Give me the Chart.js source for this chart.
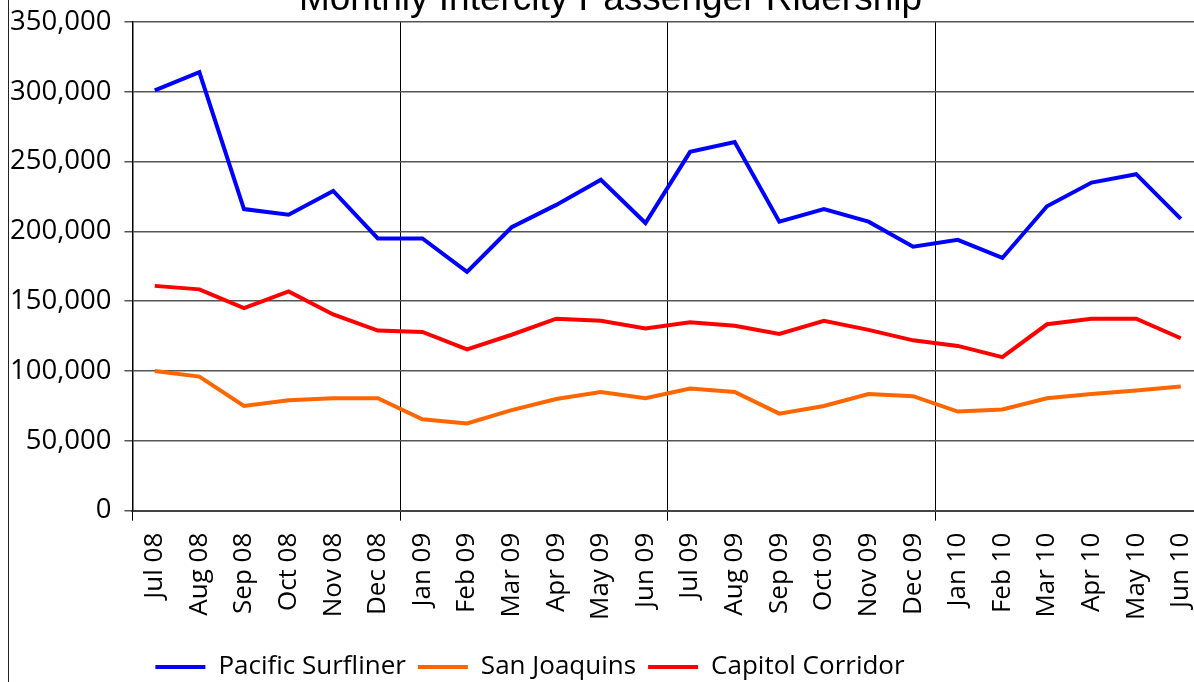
<!DOCTYPE html>
<html>
<head>
<meta charset="utf-8">
<script src="https://cdn.jsdelivr.net/npm/chart.js@4"></script>
<style>
  html, body { margin: 0; padding: 0; background: #fff; overflow: hidden; }
  #page { position: relative; width: 1194px; height: 682px; overflow: hidden; }
  #frame { position: absolute; left: 8px; top: 0; width: 0; height: 682px; border-left: 1.5px solid #222; }
  #wrap { position: absolute; left: 0; top: -20px; width: 1224px; height: 720px; }
</style>
</head>
<body>
<div id="page">
  <div id="wrap"><canvas id="chart" width="1224" height="720"></canvas></div>
  <div id="frame"></div>
</div>
<script>
const months = ['Jul 08', 'Aug 08', 'Sep 08', 'Oct 08', 'Nov 08', 'Dec 08',
  'Jan 09', 'Feb 09', 'Mar 09', 'Apr 09', 'May 09', 'Jun 09',
  'Jul 09', 'Aug 09', 'Sep 09', 'Oct 09', 'Nov 09', 'Dec 09',
  'Jan 10', 'Feb 10', 'Mar 10', 'Apr 10', 'May 10', 'Jun 10'];

const pacificSurfliner = [301000, 314000, 216000, 212000, 229000, 195000,
  195000, 171000, 203000, 219000, 237000, 206000,
  257000, 264000, 207000, 216000, 207000, 189000,
  194000, 181000, 218000, 235000, 241000, 209000];

const sanJoaquins = [100000, 96000, 75000, 79000, 80500, 80500,
  65500, 62500, 72000, 80000, 85000, 80500,
  87500, 85000, 69500, 75000, 83500, 82000,
  71000, 72500, 80500, 83500, 86000, 89000];

const capitolCorridor = [161000, 158500, 145000, 157000, 140500, 129000,
  128000, 115500, 126000, 137500, 136000, 130500,
  135000, 132500, 126500, 136000, 129500, 122000,
  118000, 110000, 133500, 137500, 137500, 123500];

const yTicks = [0, 50000, 100000, 150000, 200000, 250000, 300000, 350000];

const tickFont = { family: 'Open Sans', size: 26 };

// legend in the original sits left of centre, so pull its box in
const legendShift = {
  id: 'legendShift',
  afterLayout(chart) {
    const lg = chart.legend;
    lg.right = 2 * 530 - lg.left;
  }
};

function line(label, data, color) {
  return {
    label: label,
    data: data,
    borderColor: color,
    backgroundColor: color,
    borderWidth: 4,
    pointRadius: 0,
    tension: 0,
    fill: false
  };
}

new Chart(document.getElementById('chart'), {
  type: 'line',
  data: {
    labels: months,
    datasets: [
      line('Pacific Surfliner', pacificSurfliner, '#0000ff'),
      line('San Joaquins', sanJoaquins, '#ff6600'),
      line('Capitol Corridor', capitolCorridor, '#ff0000')
    ]
  },
  plugins: [legendShift],
  options: {
    responsive: false,
    devicePixelRatio: 1,
    animation: false,
    layout: { padding: { top: 4.3, left: -3, right: 0, bottom: 10 } },
    plugins: {
      title: {
        display: true,
        text: 'Monthly Intercity Passenger Ridership',
        color: '#000',
        font: { family: 'Liberation Sans', size: 37, weight: 'normal' },
        padding: { top: -6.7, bottom: 0 }
      },
      legend: {
        position: 'bottom',
        labels: {
          color: '#000',
          font: tickFont,
          usePointStyle: true,
          pointStyle: 'line',
          pointStyleWidth: 50,
          padding: 12
        }
      },
      tooltip: { enabled: false }
    },
    scales: {
      x: {
        offset: true,
        afterFit: (s) => { s.height += 10; },
        grid: {
          offset: true,
          color: (c) => (c.index % 6 === 0 ? '#000' : 'rgba(0,0,0,0)'),
          lineWidth: 1,
          tickLength: 10
        },
        border: { color: '#444', width: 2 },
        ticks: {
          color: '#000',
          font: tickFont,
          maxRotation: 90,
          minRotation: 90,
          autoSkip: false,
          padding: 12
        }
      },
      y: {
        min: 0,
        max: 350000,
        afterBuildTicks: (axis) => { axis.ticks = yTicks.map(v => ({ value: v })); },
        grid: { color: '#555', lineWidth: 1.5, tickLength: 8 },
        border: { color: '#000', width: 1.5 },
        ticks: { color: '#000', font: { family: 'Open Sans', size: 27.5 }, padding: 13 }
      }
    }
  }
});
</script>
</body>
</html>
